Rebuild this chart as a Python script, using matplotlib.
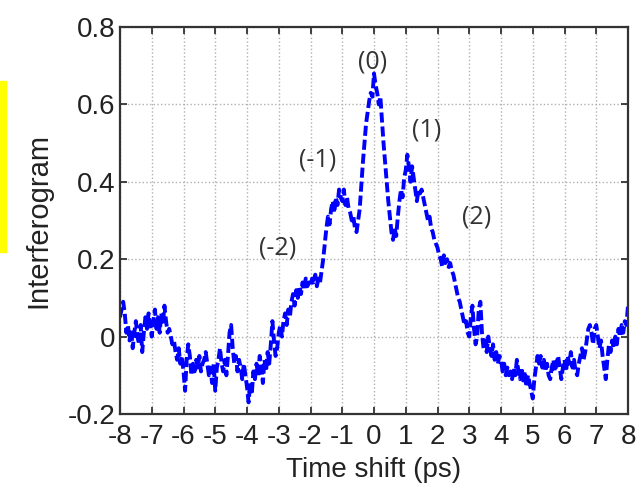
import numpy as np
import matplotlib
matplotlib.use("Agg")
import matplotlib.pyplot as plt
from matplotlib.patches import Rectangle

# time axis (ps), step 0.05
x_start, x_stop, x_step = -8.0, 8.0, 0.05

interferogram = [
    # -8.0 .. -7.05
    0.05, 0.07, 0.09, 0.06, 0.01, 0.03, -0.01, 0.02, -0.03, 0.01, 0.04, 0.00, -0.02, 0.03, -0.04, 0.01, 0.05, 0.02, 0.06, 0.03,
    # -7.0 .. -6.05
    0.00, 0.04, 0.07, 0.02, 0.05, 0.01, 0.06, 0.03, 0.08, 0.04, 0.01, 0.02, 0.00, -0.02, -0.01, -0.04, -0.06, -0.03, -0.07, -0.05,
    # -6.0 .. -5.05
    -0.09, -0.14, -0.06, -0.02, -0.05, -0.10, -0.07, -0.09, -0.06, -0.08, -0.05, -0.09, -0.07, -0.06, -0.04, -0.07, -0.10, -0.08, -0.12, -0.07,
    # -5.0 .. -4.05
    -0.14, -0.08, -0.06, -0.03, -0.07, -0.09, -0.06, -0.10, -0.05, 0.01, 0.03, -0.03, -0.07, -0.05, -0.09, -0.06, -0.08, -0.11, -0.07, -0.10,
    # -4.0 .. -3.05
    -0.13, -0.17, -0.12, -0.15, -0.09, -0.11, -0.07, -0.10, -0.05, -0.08, -0.12, -0.06, -0.09, -0.04, -0.07, -0.02, 0.04, -0.01, -0.05, -0.03,
    # -3.0 .. -2.05
    0.01, 0.03, 0.00, 0.04, 0.06, 0.03, 0.07, 0.05, 0.09, 0.11, 0.08, 0.12, 0.10, 0.13, 0.11, 0.14, 0.12, 0.15, 0.13, 0.14,
    # -2.0 .. -1.05
    0.13, 0.15, 0.14, 0.16, 0.13, 0.15, 0.14, 0.17, 0.20, 0.24, 0.28, 0.31, 0.29, 0.33, 0.35, 0.32, 0.36, 0.34, 0.38, 0.36,
    # -1.0 .. -0.05
    0.35, 0.38, 0.34, 0.36, 0.33, 0.32, 0.30, 0.31, 0.28, 0.27, 0.30, 0.33, 0.39, 0.45, 0.50, 0.55, 0.58, 0.61, 0.63, 0.62,
    # 0.0 .. 0.95
    0.68, 0.65, 0.63, 0.60, 0.62, 0.56, 0.50, 0.45, 0.40, 0.35, 0.31, 0.27, 0.25, 0.28, 0.26, 0.31, 0.35, 0.38, 0.36, 0.41,
    # 1.0 .. 1.95
    0.43, 0.47, 0.44, 0.40, 0.44, 0.41, 0.38, 0.35, 0.38, 0.37, 0.38, 0.36, 0.34, 0.32, 0.30, 0.31, 0.28, 0.27, 0.25, 0.24,
    # 2.0 .. 2.95
    0.23, 0.21, 0.20, 0.18, 0.21, 0.19, 0.20, 0.18, 0.19, 0.17, 0.16, 0.14, 0.12, 0.10, 0.09, 0.07, 0.05, 0.03, 0.04, 0.01,
    # 3.0 .. 3.95
    0.00, 0.05, 0.08, 0.02, -0.02, 0.00, 0.07, 0.09, 0.01, -0.03, -0.01, -0.04, 0.00, -0.03, -0.05, -0.02, -0.06, -0.04, -0.07, -0.05,
    # 4.0 .. 4.95
    -0.06, -0.09, -0.07, -0.10, -0.08, -0.10, -0.09, -0.11, -0.08, -0.10, -0.06, -0.09, -0.11, -0.08, -0.12, -0.09, -0.13, -0.10, -0.12, -0.14,
    # 5.0 .. 5.95
    -0.16, -0.11, -0.08, -0.05, -0.07, -0.05, -0.08, -0.06, -0.09, -0.07, -0.10, -0.11, -0.08, -0.06, -0.09, -0.07, -0.05, -0.08, -0.11, -0.08,
    # 6.0 .. 6.95
    -0.06, -0.09, -0.05, -0.07, -0.04, -0.08, -0.06, -0.09, -0.10, -0.07, -0.05, -0.03, -0.06, -0.04, -0.01, 0.02, 0.03, 0.01, -0.02, 0.02,
    # 7.0 .. 7.95
    0.03, 0.00, -0.03, -0.01, -0.05, -0.08, -0.11, -0.06, -0.02, -0.04, -0.01, -0.03, 0.00, -0.02, 0.02, 0.00, 0.03, 0.01, 0.04, 0.03,
    # 8.0
    0.08,
]
time_shift = np.linspace(x_start, x_stop, len(interferogram))

x_ticks = [-8, -7, -6, -5, -4, -3, -2, -1, 0, 1, 2, 3, 4, 5, 6, 7, 8]
y_ticks = [-0.2, 0, 0.2, 0.4, 0.6, 0.8]
y_tick_labels = ["-0.2", "0", "0.2", "0.4", "0.6", "0.8"]

peak_labels = ["(-2)", "(-1)", "(0)", "(1)", "(2)"]
peak_label_x = [-3.02, -1.76, -0.06, 1.67, 3.24]
peak_label_y = [0.23, 0.456, 0.71, 0.534, 0.31]

plt.rcParams['font.family'] = ['Liberation Sans', 'DejaVu Sans']

fig = plt.figure(figsize=(6.43, 4.95), dpi=100)
ax = fig.add_axes([120/643, 81/495, 508/643, 387/495])

ax.plot(time_shift, interferogram, linestyle=(0, (2.6, 1.0)), color='#0000ff', linewidth=2.8)

ax.set_xlim(-8, 8)
ax.set_ylim(-0.2, 0.8)
ax.set_xticks(x_ticks)
ax.set_xticklabels([str(t) for t in x_ticks])
ax.set_yticks(y_ticks)
ax.set_yticklabels(y_tick_labels)
ax.grid(True, linestyle=':', color='#b0b0b0', linewidth=1.0)
ax.tick_params(direction='in', top=True, right=True, length=5, width=1.2,
               labelsize=20, colors='#222222')
ax.tick_params(axis='x', pad=7)
ax.tick_params(axis='y', pad=3)
for s in ax.spines.values():
    s.set_linewidth(1.6)
    s.set_color('#333333')

ax.set_xlabel("Time shift (ps)", fontsize=20, color='#222222', labelpad=5)
ax.set_ylabel("Interferogram", fontsize=21, color='#222222', labelpad=11)

for lab, lx, ly in zip(peak_labels, peak_label_x, peak_label_y):
    ax.text(lx, ly, lab, fontsize=18, color='#333333', ha='center', va='center',
            family=['Open Sans', 'DejaVu Sans'])

fig.patches.append(Rectangle((0, (495-252)/495), 6/643, 171/495,
                             transform=fig.transFigure, color='#ffff00', zorder=5))

fig.savefig("out.png", dpi=100)
